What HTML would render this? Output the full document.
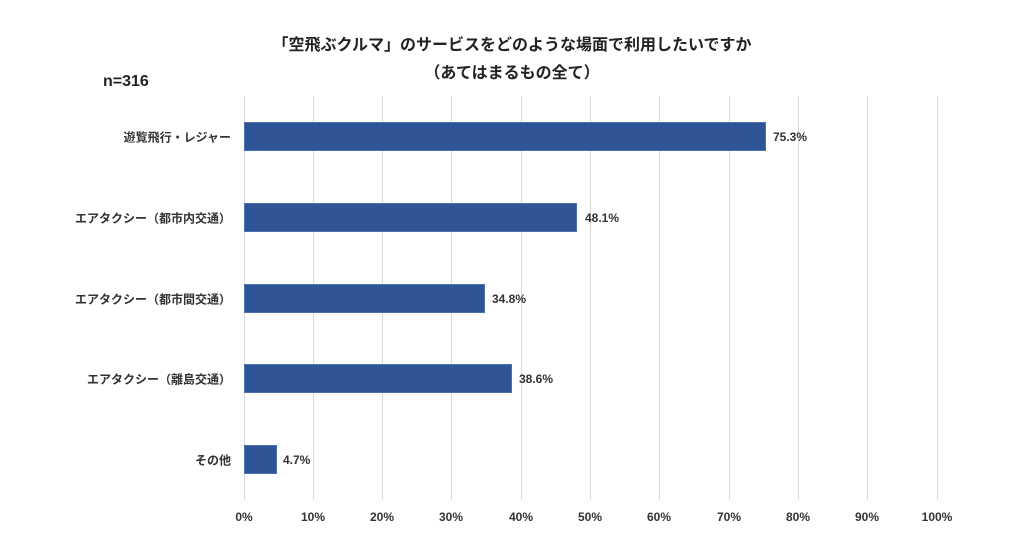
<!DOCTYPE html>
<html><head><meta charset="utf-8"><style>
body{margin:0;width:1024px;height:557px;background:#fff;font-family:"Liberation Sans","Noto Sans CJK JP",sans-serif;font-weight:bold;color:#333;position:relative;overflow:hidden}
.a{position:absolute;white-space:nowrap}
.g{position:absolute;top:96px;height:404px;width:1px;background:#d9d9d9}
.b{position:absolute;left:244px;height:29px;background:#2f5597;border:1px solid #4a72b0;box-sizing:border-box}
.l{position:absolute;right:793px;font-size:12px;transform:translateY(-50%)}
.v{position:absolute;font-size:12px;transform:translateY(-50%)}
.t{position:absolute;top:510px;font-size:12px;transform:translateX(-50%)}
</style></head><body>
<div class="a" style="left:0;width:1024px;text-align:center;top:31px;font-size:16px;color:#222">「空飛ぶクルマ」のサービスをどのような場面で利用したいですか</div>
<div class="a" style="left:0;width:1024px;text-align:center;top:59px;font-size:16px;color:#222">（あてはまるもの全て）</div>
<div class="a" style="left:103px;top:73px;font-size:16px;color:#222">n=316</div>
<div class="g" style="left:244px"></div><div class="g" style="left:313px"></div><div class="g" style="left:382px"></div><div class="g" style="left:451px"></div><div class="g" style="left:521px"></div><div class="g" style="left:590px"></div><div class="g" style="left:659px"></div><div class="g" style="left:729px"></div><div class="g" style="left:798px"></div><div class="g" style="left:867px"></div><div class="g" style="left:937px"></div>
<div class="b" style="top:122px;width:522px"></div>
<div class="b" style="top:203px;width:333px"></div>
<div class="b" style="top:284px;width:241px"></div>
<div class="b" style="top:364px;width:268px"></div>
<div class="b" style="top:445px;width:33px"></div>
<div class="l" style="top:137px">遊覧飛行・レジャー</div>
<div class="l" style="top:218px">エアタクシー（都市内交通）</div>
<div class="l" style="top:299px">エアタクシー（都市間交通）</div>
<div class="l" style="top:379px">エアタクシー（離島交通）</div>
<div class="l" style="top:460px">その他</div>
<div class="v" style="left:773px;top:137px">75.3%</div>
<div class="v" style="left:585px;top:218px">48.1%</div>
<div class="v" style="left:492px;top:299px">34.8%</div>
<div class="v" style="left:519px;top:379px">38.6%</div>
<div class="v" style="left:283px;top:460px">4.7%</div>
<div class="t" style="left:244px">0%</div><div class="t" style="left:313px">10%</div><div class="t" style="left:382px">20%</div><div class="t" style="left:451px">30%</div><div class="t" style="left:521px">40%</div><div class="t" style="left:590px">50%</div><div class="t" style="left:659px">60%</div><div class="t" style="left:729px">70%</div><div class="t" style="left:798px">80%</div><div class="t" style="left:867px">90%</div><div class="t" style="left:937px">100%</div>
</body></html>
